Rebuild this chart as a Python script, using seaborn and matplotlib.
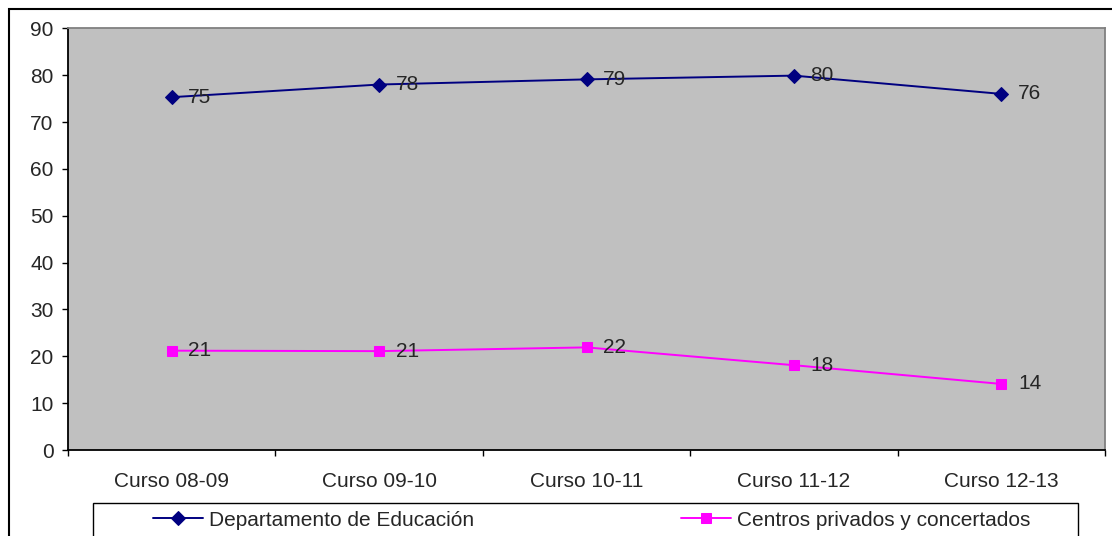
import pandas as pd
import seaborn as sns
import matplotlib.pyplot as plt
from matplotlib.patches import Rectangle

# Datos
cursos = ['Curso 08-09', 'Curso 09-10', 'Curso 10-11', 'Curso 11-12', 'Curso 12-13']
educacion = [75.3, 78.0, 79.1, 79.9, 76.0]
privados = [21.2, 21.1, 21.9, 18.1, 14.1]
serie_edu = 'Departamento de Educación'
serie_priv = 'Centros privados y concertados'
yticks = [0, 10, 20, 30, 40, 50, 60, 70, 80, 90]

W, H = 1112, 536
sns.set_style('white')
plt.rcParams['font.family'] = ['Liberation Sans', 'DejaVu Sans']
fs = 15

fig = plt.figure(figsize=(W / 100, H / 100), dpi=100)
ax = fig.add_axes([68 / W, 1 - 450 / H, (1105 - 68) / W, (450 - 28.3) / H])
ax.set_facecolor('#C0C0C0')

sns.lineplot(x=cursos, y=educacion, ax=ax, color='#000080', marker='D',
             markersize=7.5, markeredgecolor='#000080', linewidth=1.4,
             label=serie_edu, sort=False)
sns.lineplot(x=cursos, y=privados, ax=ax, color='#FF00FF', marker='s',
             markersize=7.5, markeredgecolor='#FF00FF', linewidth=1.4,
             label=serie_priv, sort=False)

# etiquetas de datos
for i, (a, b) in enumerate(zip(educacion, privados)):
    ax.annotate(f'{round(a)}', (i, a), xytext=(12, 0), textcoords='offset points',
                va='center', ha='left', fontsize=fs)
    ax.annotate(f'{round(b)}', (i, b), xytext=(12, 0), textcoords='offset points',
                va='center', ha='left', fontsize=fs)

ax.set_xlim(-0.5, len(cursos) - 0.5)
ax.set_ylim(0, 90)
ax.set_yticks(yticks)
ax.set_xticks(range(len(cursos)))
ax.set_xticklabels(cursos)
ax.set_xticks([i - 0.5 for i in range(len(cursos) + 1)], minor=True)
ax.tick_params(axis='x', which='major', length=0, pad=15.5, labelsize=fs)
ax.tick_params(axis='x', which='minor', length=4.5, width=1, direction='out',
               color='black', bottom=True)
ax.tick_params(axis='y', length=4.5, width=1, direction='out', pad=6,
               labelsize=fs, left=True, color='black')
ax.set_xlabel('')
ax.set_ylabel('')

for s in ['left', 'bottom']:
    ax.spines[s].set_color('black')
    ax.spines[s].set_linewidth(1.3)
for s in ['top', 'right']:
    ax.spines[s].set_color('#808080')
    ax.spines[s].set_linewidth(1.3)

# leyenda
handles, labels = ax.get_legend_handles_labels()
ax.get_legend().remove()
fig.legend(handles, labels, loc='upper left', ncol=2, frameon=False,
           bbox_to_anchor=(152.7 / W, 1 - 510.5 / H), borderpad=0,
           borderaxespad=0, handlelength=2.4, handletextpad=0.29,
           columnspacing=9.95, fontsize=fs)
fig.patches.append(Rectangle((92.7 / W, -0.2), (1078 - 92.7) / W, (536 - 502.7) / H + 0.2,
                             transform=fig.transFigure, fill=False,
                             edgecolor='black', linewidth=1))

# marco exterior del grafico
fig.patches.append(Rectangle((9 / W, -0.2), 1.2, (536 - 9.3) / H + 0.2,
                             transform=fig.transFigure, fill=False,
                             edgecolor='black', linewidth=1.5))

fig.savefig('out.png', dpi=100)
